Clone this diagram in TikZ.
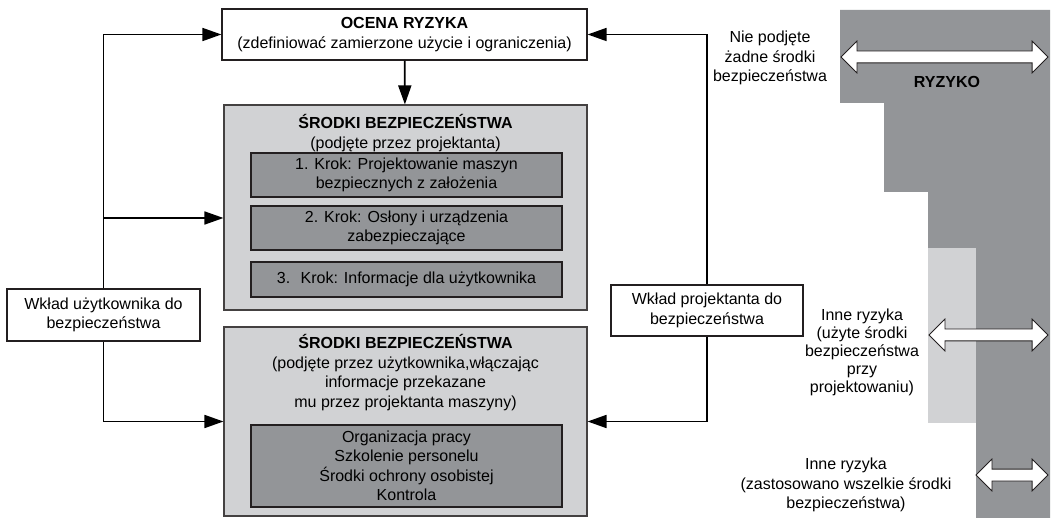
\documentclass[tikz,border=0pt]{standalone}
\usepackage{fontspec}
\setmainfont{Liberation Sans}
\usetikzlibrary{arrows.meta,positioning,shapes.arrows}

\definecolor{jasny}{RGB}{209,210,212}
\definecolor{ciemny}{RGB}{147,149,152}
\definecolor{ramka}{RGB}{35,31,32}

\newcommand{\tyt}[1]{{\bfseries #1}}

\tikzset{
  txt/.style={font=\fontsize{16}{19.5}\selectfont, align=center, inner sep=0pt},
  biala/.style={txt, draw=ramka, line width=1.2pt, fill=white},
  tlo/.style={draw=ramka!85, line width=1.1pt, fill=jasny, minimum width=363pt, inner sep=0pt},
  krok/.style={txt, draw=ramka, line width=1.1pt, fill=ciemny, minimum width=311pt},
  strz/.style={double arrow, draw=ramka, line width=0.8pt, fill=white, inner sep=0pt,
    double arrow head extend=10pt},
}

\begin{document}
\begin{tikzpicture}[x=1pt,y=-1pt,>={Triangle[length=19pt,width=13pt]},line width=1.7pt]

  \useasboundingbox (0,0) rectangle (1052,518);

  % ryzyko
  \fill[ciemny] (840,10) -- (1050,10) -- (1050,518) -- (976,518) -- (976,248)
    -- (928,248) -- (928,192) -- (884,192) -- (884,103) -- (840,103) -- cycle;
  \fill[jasny] (928,248) rectangle (976,423);

  \node[strz, minimum height=207pt] (s1) at (944.5,57) {\rule{0pt}{11pt}};
  \node[strz, minimum height=119pt] (s2) at (988.5,335) {\rule{0pt}{11pt}};
  \node[strz, minimum height=72pt] (s3) at (1012,475) {\rule{0pt}{11pt}};

  \node[txt] (ryzyko) at (947,82) {\tyt{RYZYKO}};
  \node[txt] (brak) at (770,58) {Nie podjęte\\żadne środki\\bezpieczeństwa};
  \node[txt, font=\fontsize{16}{18}\selectfont] (inne1) at (862,352)
    {Inne ryzyka\\(użyte środki\\bezpieczeństwa\\przy\\projektowaniu)};
  \node[txt] (inne2) at (846,485)
    {Inne ryzyka\\(zastosowano wszelkie środki\\bezpieczeństwa)};

  % schemat
  \node[biala, minimum width=365pt, minimum height=51pt] (ocena) at (404.5,34.5)
    {\tyt{OCENA RYZYKA}\\(zdefiniować zamierzone użycie i ograniczenia)};

  \node[tlo, minimum height=205pt] (sbproj) at (405.5,207.5) {};
  \node[txt] (sbproj-t) at (405.5,133)
    {\tyt{ŚRODKI BEZPIECZEŃSTWA}\\(podjęte przez projektanta)};
  \node[krok, minimum height=44pt] (krok1) at (406.5,175)
    {1. Krok: Projektowanie maszyn\\bezpiecznych z założenia};
  \node[krok, minimum height=44pt] (krok2) at (406.5,228)
    {2. Krok: Osłony i urządzenia\\zabezpieczające};
  \node[krok, minimum height=35pt] (krok3) at (406.5,279.5)
    {3.~ Krok: Informacje dla użytkownika};

  \node[tlo, minimum height=189pt] (sbuzyt) at (405.5,421.5) {};
  \node[txt] (sbuzyt-t) at (405.5,372.5)
    {\tyt{ŚRODKI BEZPIECZEŃSTWA}\\(podjęte przez użytkownika,włączając\\informacje przekazane\\mu przez projektanta maszyny)};
  \node[krok, minimum height=82pt] (srodki) at (406.5,466)
    {Organizacja pracy\\Szkolenie personelu\\Środki ochrony osobistej\\Kontrola};

  \node[biala, minimum width=193pt, minimum height=52pt] (uzyt) at (103.5,315)
    {Wkład użytkownika do\\bezpieczeństwa};
  \node[biala, minimum width=192pt, minimum height=51pt] (proj) at (707,310.5)
    {Wkład projektanta do\\bezpieczeństwa};

  \coordinate (rozg) at (103.5,218);

  \draw[->] (ocena) -- (sbproj);
  \draw[->] (uzyt.north) |- (ocena.west);
  \draw[->] (rozg) -- (rozg -| sbproj.west);
  \draw[->] (uzyt.south) |- (sbuzyt.west);
  \draw[->] (proj.north) |- (ocena.east);
  \draw[->] (proj.south) |- (sbuzyt.east);

\end{tikzpicture}
\end{document}
